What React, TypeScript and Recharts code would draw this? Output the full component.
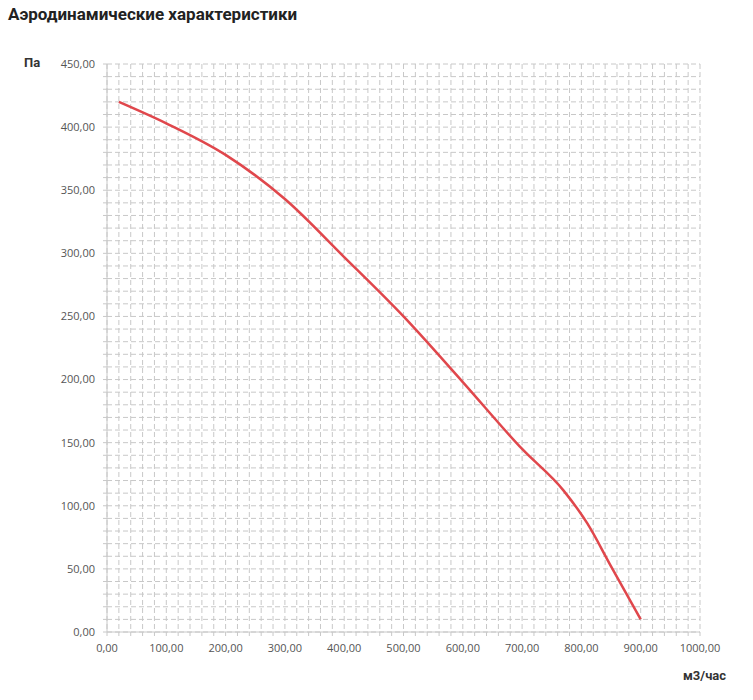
import { LineChart, Line, XAxis, YAxis, CartesianGrid } from 'recharts';

// расход, м3/час
const flow = [20, 100, 200, 300, 400, 500, 600, 700, 770, 810, 850, 900];
// давление, Па
const pressure = [420, 403, 378, 343, 297, 250, 198, 145, 112, 86, 52, 10];

const xTicks = Array.from({ length: 51 }, (_, i) => i * 20);
const yTicks = Array.from({ length: 46 }, (_, i) => i * 10);

const data = flow.map((q, i) => ({ q, p: pressure[i] }));

const fmt = (v: number) => v.toFixed(2).replace('.', ',');
const tickStyle = { fill: '#555', fontSize: 11, fontFamily: '"Open Sans", sans-serif' };
const labelStyle: React.CSSProperties = {
  position: 'absolute',
  fontFamily: 'Roboto, sans-serif',
  fontWeight: 700,
  fontSize: 13,
  color: '#333',
};

export default function App() {
  return (
    <div style={{ position: 'absolute', left: 0, top: 0, width: 753, height: 700, background: '#fff' }}>
      <div
        style={{
          position: 'absolute',
          left: 8,
          top: 4,
          fontFamily: 'Roboto, sans-serif',
          fontWeight: 700,
          fontSize: 17,
          color: '#222',
        }}
      >
        Аэродинамические характеристики
      </div>
      <div style={{ ...labelStyle, left: 24, top: 55 }}>Па</div>
      <div style={{ ...labelStyle, left: 683, top: 668 }}>м3/час</div>
      <LineChart width={753} height={700} data={data} margin={{ top: 64, right: 53, bottom: 38, left: 7 }}>
        <CartesianGrid stroke="#c8c8c8" strokeDasharray="5 3" />
        <XAxis
          type="number"
          dataKey="q"
          domain={[0, 1000]}
          ticks={xTicks}
          interval={0}
          tickFormatter={(v: number) => (v % 100 === 0 ? fmt(v) : '')}
          tick={tickStyle}
          tickSize={4}
          tickMargin={8}
          tickLine={{ stroke: '#c8c8c8' }}
          axisLine={{ stroke: '#c8c8c8' }}
          height={30}
        />
        <YAxis
          type="number"
          domain={[0, 450]}
          ticks={yTicks}
          interval={0}
          tickFormatter={(v: number) => (v % 50 === 0 ? fmt(v) : '')}
          tick={tickStyle}
          tickSize={4}
          tickMargin={8}
          tickLine={{ stroke: '#c8c8c8' }}
          axisLine={{ stroke: '#c8c8c8' }}
          width={100}
        />
        <Line
          type="monotone"
          dataKey="p"
          stroke="#e0474c"
          strokeWidth={2.5}
          dot={false}
          isAnimationActive={false}
        />
      </LineChart>
    </div>
  );
}
